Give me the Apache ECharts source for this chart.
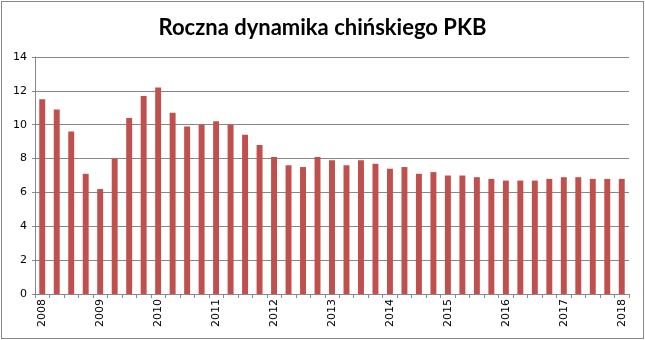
<!DOCTYPE html>
<html><head><meta charset="utf-8">
<script src="https://cdn.jsdelivr.net/npm/echarts@6/dist/echarts.min.js"></script>
<style>html,body{margin:0;padding:0;background:#fff}#c{width:645px;height:340px}
#frame{position:absolute;left:1px;top:1px;width:641px;height:336px;border:1px solid #888;pointer-events:none}</style>
</head><body><div id="c"></div><div id="frame"></div>
<script>
const titleText = 'Roczna dynamika chińskiego PKB';
const years = ['2008','2009','2010','2011','2012','2013','2014','2015','2016','2017','2018'];
const quarters = ['Q1','Q2','Q3','Q4'];
const values = [11.5,10.9,9.6,7.1, 6.2,8.0,10.4,11.7, 12.2,10.7,9.9,10.0, 10.2,10.0,9.4,8.8,
 8.1,7.6,7.5,8.1, 7.9,7.6,7.9,7.7, 7.4,7.5,7.1,7.2, 7.0,7.0,6.9,6.8, 6.7,6.7,6.7,6.8,
 6.9,6.9,6.8,6.8, 6.8];
const yTicks = [0,2,4,6,8,10,12,14];
const categories = [];
years.forEach(y => quarters.forEach(q => categories.push(y + ' ' + q)));
categories.length = values.length;

const chart = echarts.init(document.getElementById('c'), null, {renderer:'canvas'});
chart.setOption({
  animation:false,
  title:{text:titleText,left:'center',top:12,textStyle:{fontFamily:'Lato',fontWeight:'bold',fontSize:22,color:'#000'}},
  grid:{left:35,right:16,top:57,bottom:46,containLabel:false},
  xAxis:{type:'category',data:categories,
    axisLine:{lineStyle:{color:'#888',width:1}},
    axisTick:{show:true,interval:0,length:4,lineStyle:{color:'#888'}},
    axisLabel:{interval:(i)=>i%4===0,rotate:90,margin:5,fontFamily:'DejaVu Sans',fontSize:11,color:'#000',
      formatter:(v)=>v.split(' ')[0]}},
  yAxis:{type:'value',min:yTicks[0],max:yTicks[yTicks.length-1],interval:2,
    axisLine:{show:true,lineStyle:{color:'#888'}},
    axisTick:{show:true,length:3,lineStyle:{color:'#888'}},
    splitLine:{lineStyle:{color:'#888',width:1}},
    axisLabel:{margin:8,fontFamily:'DejaVu Sans',fontSize:11,color:'#000'}},
  series:[{type:'bar',data:values,barWidth:'41%',itemStyle:{color:'#C0504D'}}]
});
</script></body></html>
